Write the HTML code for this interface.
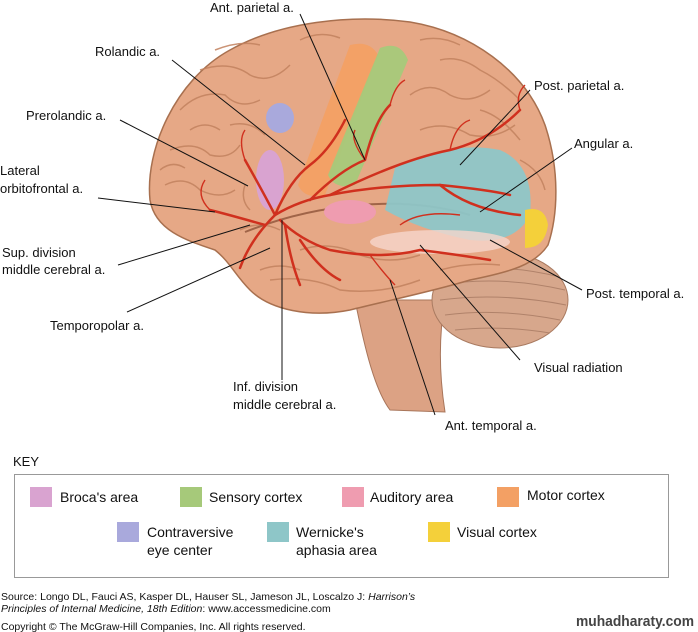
<!DOCTYPE html>
<html><head><meta charset="utf-8"><style>
body{margin:0;background:#fff;}
svg{display:block;font-family:"Liberation Sans",sans-serif;}
</style></head><body>
<svg width="698" height="632" viewBox="0 0 698 632" xmlns="http://www.w3.org/2000/svg">
<rect width="698" height="632" fill="#fff"/>
<!-- brainstem -->
<path d="M355,300 C365,350 375,390 390,410 L445,412 C440,380 438,340 445,300 Z" fill="#dca284" stroke="#a8755a" stroke-width="1"/>
<!-- cerebellum -->
<ellipse cx="500" cy="300" rx="68" ry="48" fill="#d7a78c" stroke="#a97a60"/>
<g stroke="#b0826a" stroke-width="1" fill="none">
<path d="M440,285 Q500,275 565,290"/><path d="M440,300 Q500,292 566,305"/><path d="M445,315 Q500,308 560,320"/><path d="M455,330 Q500,325 550,333"/><path d="M445,272 Q500,262 560,277"/>
</g>
<!-- cerebrum -->
<path d="M150,200 C145,150 175,80 230,50 C280,22 350,14 410,22 C470,32 525,70 545,125 C560,170 558,215 548,245 C535,265 510,272 470,280 C430,292 390,300 350,310 C310,318 270,310 250,290 C235,275 230,262 215,250 C185,240 155,230 150,200 Z" fill="#e6a886" stroke="#a8704f" stroke-width="1.5"/>
<!-- gyri texture -->
<g stroke="#c2825f" stroke-width="1.5" fill="none" opacity="0.85">
<path d="M180,110 Q200,90 225,95 Q240,110 260,100"/><path d="M170,150 Q195,140 210,155 Q230,160 240,145"/>
<path d="M200,70 Q230,60 250,75 Q270,85 290,65"/><path d="M165,185 Q185,175 200,190 Q220,200 235,190"/>
<path d="M410,95 Q430,80 450,95 Q470,105 490,90"/><path d="M420,130 Q445,120 470,135 Q495,140 515,125"/>
<path d="M440,60 Q460,55 480,70 Q500,80 520,100"/><path d="M300,250 Q330,240 360,255 Q390,265 420,255"/>
<path d="M270,280 Q310,275 340,290 Q380,295 420,280"/><path d="M240,230 Q260,220 280,230"/>
<path d="M520,160 Q540,170 545,190"/><path d="M230,125 Q250,120 265,135"/>
<path d="M190,130 Q205,120 220,130"/><path d="M160,170 Q172,160 185,168"/><path d="M215,50 Q240,40 260,45"/>
<path d="M300,40 Q320,30 340,38"/><path d="M420,40 Q440,35 460,45"/><path d="M480,110 Q500,115 520,140"/>
<path d="M260,270 Q280,262 300,270"/><path d="M440,270 Q470,262 500,265"/><path d="M250,210 Q240,200 245,185"/>
</g>
<!-- lateral sulcus -->
<path d="M245,232 Q300,210 360,205 Q420,200 470,215" stroke="#a06448" stroke-width="2" fill="none"/>
<!-- colored regions -->
<ellipse cx="280" cy="118" rx="14" ry="15" fill="#a9a9dc"/>
<path d="M350,45 Q370,40 378,55 L325,195 Q305,200 298,185 Z" fill="#f3a064" opacity="0.95"/>
<path d="M380,48 Q400,40 408,60 L355,185 Q335,190 328,175 Z" fill="#a6c97a" opacity="0.95"/>
<path d="M395,168 Q450,140 500,150 Q535,165 530,215 Q515,245 470,240 Q420,230 385,210 Z" fill="#8ec6c8" opacity="0.95"/>
<ellipse cx="350" cy="212" rx="26" ry="12" fill="#ef9cb0"/>
<ellipse cx="270" cy="180" rx="14" ry="30" fill="#d9a3d0"/>
<path d="M525,210 Q545,205 548,225 Q545,248 525,248 Z" fill="#f4d03a"/>
<ellipse cx="440" cy="242" rx="70" ry="12" fill="#f6d6cc" opacity="0.8"/>
<!-- arteries -->
<g stroke="#d0301e" stroke-width="2.5" fill="none" stroke-linecap="round">
<path d="M240,268 Q250,240 275,215 Q300,200 330,195 Q380,185 440,185 Q490,190 510,195"/>
<path d="M275,215 Q290,180 310,165 Q330,150 345,120"/>
<path d="M275,215 Q262,190 245,160"/>
<path d="M265,225 Q230,215 210,210"/>
<path d="M310,200 Q340,170 365,160 Q375,120 390,105"/>
<path d="M330,195 Q400,160 450,150 Q490,140 520,110"/>
<path d="M440,185 Q470,210 520,215"/>
<path d="M280,220 Q300,240 330,250 Q380,260 420,250 Q460,255 490,260"/>
<path d="M285,225 Q290,260 300,285"/>
<path d="M300,240 Q320,270 340,280"/>
</g>
<g stroke="#d0301e" stroke-width="1.4" fill="none">
<path d="M245,160 Q238,140 245,130"/><path d="M210,210 Q195,195 205,180"/><path d="M390,105 Q395,85 405,80"/><path d="M365,160 Q350,140 355,130"/><path d="M520,110 Q515,95 525,85"/><path d="M450,150 Q455,125 470,120"/><path d="M400,225 Q420,210 460,215"/><path d="M370,255 Q385,275 395,285"/>
</g>
<!-- leader lines -->
<g stroke="#111" stroke-width="1" fill="none">
<line x1="300" y1="14" x2="365" y2="160"/>
<line x1="172" y1="60" x2="305" y2="165"/>
<line x1="120" y1="120" x2="248" y2="186"/>
<line x1="98" y1="198" x2="215" y2="212"/>
<line x1="118" y1="265" x2="250" y2="225"/>
<line x1="127" y1="312" x2="270" y2="248"/>
<line x1="282" y1="380" x2="282" y2="220"/>
<line x1="435" y1="415" x2="390" y2="280"/>
<line x1="520" y1="360" x2="420" y2="245"/>
<line x1="582" y1="290" x2="490" y2="240"/>
<line x1="572" y1="148" x2="480" y2="212"/>
<line x1="530" y1="90" x2="460" y2="165"/>
</g>
<!-- labels -->
<g font-size="13" fill="#111">
<text x="210" y="12">Ant. parietal a.</text>
<text x="95" y="56">Rolandic a.</text>
<text x="26" y="120">Prerolandic a.</text>
<text x="0" y="175">Lateral</text><text x="0" y="193">orbitofrontal a.</text>
<text x="2" y="257">Sup. division</text><text x="2" y="274">middle cerebral a.</text>
<text x="50" y="330">Temporopolar a.</text>
<text x="233" y="391">Inf. division</text><text x="233" y="409">middle cerebral a.</text>
<text x="445" y="430">Ant. temporal a.</text>
<text x="534" y="372">Visual radiation</text>
<text x="586" y="298">Post. temporal a.</text>
<text x="574" y="148">Angular a.</text>
<text x="534" y="90">Post. parietal a.</text>
<text x="13" y="466">KEY</text>
</g>
<rect x="14.5" y="474.5" width="654" height="103" fill="#fff" stroke="#999"/>
<g font-size="14" fill="#111">
<rect x="30" y="487" width="22" height="20" fill="#d9a3d0"/><text x="60" y="502">Broca's area</text>
<rect x="180" y="487" width="22" height="20" fill="#a6c97a"/><text x="209" y="502">Sensory cortex</text>
<rect x="342" y="487" width="22" height="20" fill="#ef9cb0"/><text x="370" y="502">Auditory area</text>
<rect x="497" y="487" width="22" height="20" fill="#f3a064"/><text x="527" y="500">Motor cortex</text>
<rect x="117" y="522" width="22" height="20" fill="#a9a9dc"/><text x="147" y="537">Contraversive</text><text x="147" y="555">eye center</text>
<rect x="267" y="522" width="22" height="20" fill="#8ec6c8"/><text x="296" y="537">Wernicke's</text><text x="296" y="555">aphasia area</text>
<rect x="428" y="522" width="22" height="20" fill="#f4d03a"/><text x="457" y="537">Visual cortex</text>
</g>
<g font-size="10.5" fill="#111">
<text x="1" y="600">Source: Longo DL, Fauci AS, Kasper DL, Hauser SL, Jameson JL, Loscalzo J: <tspan font-style="italic">Harrison’s</tspan></text>
<text x="1" y="612"><tspan font-style="italic">Principles of Internal Medicine, 18th Edition</tspan>: www.accessmedicine.com</text>
<text x="1" y="630">Copyright © The McGraw-Hill Companies, Inc. All rights reserved.</text>
</g>
<text x="576" y="626" font-size="15" font-weight="bold" fill="#444" textLength="118" lengthAdjust="spacingAndGlyphs">muhadharaty.com</text>
</svg>
</body></html>
